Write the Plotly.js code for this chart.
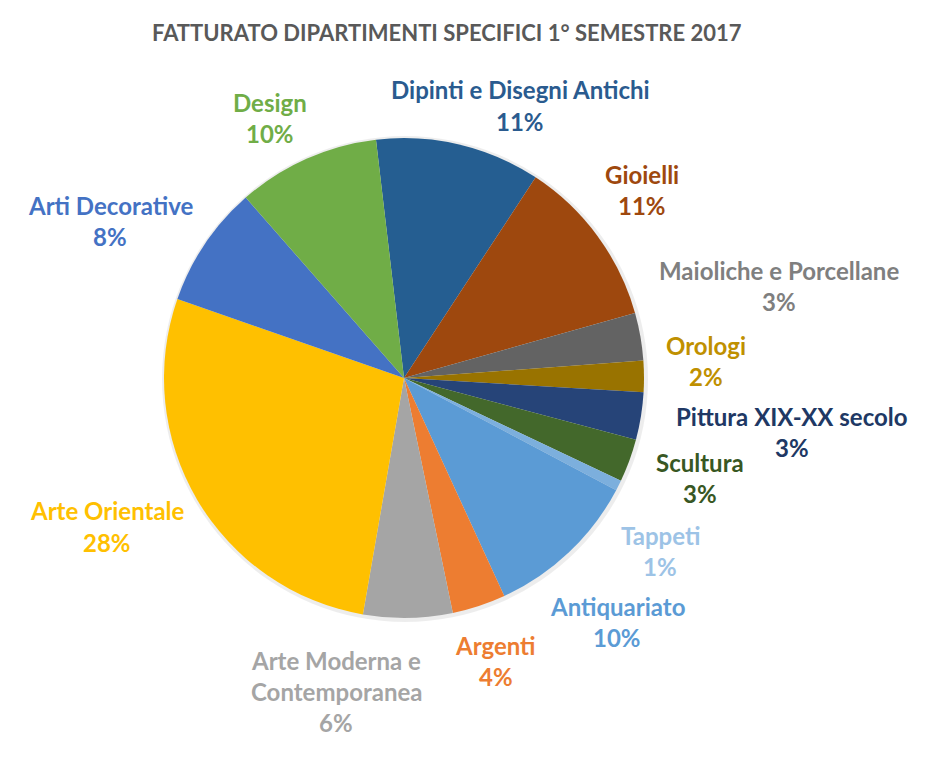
<!DOCTYPE html>
<html>
<head>
<meta charset="utf-8">
<script src="https://cdn.plot.ly/plotly-3.0.1.min.js"></script>
<style>html,body{margin:0;padding:0;background:#fff;}#chart{width:931px;height:757px;}</style>
</head>
<body>
<div id="chart"></div>
<script>
// Data
const categories = ["Dipinti e Disegni Antichi", "Gioielli", "Maioliche e Porcellane", "Orologi",
  "Pittura XIX-XX secolo", "Scultura", "Tappeti", "Antiquariato", "Argenti",
  "Arte Moderna e\nContemporanea", "Arte Orientale", "Arti Decorative", "Design"];
const values = [11.1, 11.4, 3.2, 2.1, 3.2, 2.9, 0.7, 10.4, 3.6, 6.0, 27.6, 8.2, 9.6];

// Styles
const sliceColors = ["#255E91", "#9E480E", "#636363", "#997300", "#264478", "#43682B", "#7CAFDD",
  "#5B9BD5", "#ED7D31", "#A5A5A5", "#FFC000", "#4472C4", "#70AD47"];
const labelColors = ["#2A5B8F", "#9E480E", "#7F7F7F", "#BF9000", "#203864", "#385723", "#9DC3E6",
  "#5B9BD5", "#ED7D31", "#A5A5A5", "#FFC000", "#4472C4", "#70AD47"];
// label anchor positions (pixel, first line centre)
const labelPos = [[520, 90], [642, 175], [779, 270], [706, 345], [792, 416], [700, 462], [660, 535],
  [617, 606], [496, 645], [336, 660], [107, 511], [110, 205], [270, 103]];

const W = 931, H = 757;
const cx = 404, cy = 378, R = 240;
const font = "Lato, 'Open Sans', sans-serif";
const lineGap = 31;

const total = values.reduce((a, b) => a + b, 0);
const annotations = [];
categories.forEach((c, i) => {
  const lines = c.split("\n");
  lines.push(Math.round(values[i] / total * 100) + "%");
  lines.forEach((t, k) => {
    annotations.push({
      text: "<b>" + t + "</b>", xref: "paper", yref: "paper",
      x: labelPos[i][0] / W, y: 1 - (labelPos[i][1] + k * lineGap) / H,
      xanchor: "center", yanchor: "middle", showarrow: false,
      font: {family: font, size: 24, color: labelColors[i]}
    });
  });
});
annotations.push({
  text: "<b>FATTURATO DIPARTIMENTI SPECIFICI 1° SEMESTRE 2017</b>", xref: "paper", yref: "paper",
  x: 447 / W, y: 1 - 32 / H, xanchor: "center", yanchor: "middle", showarrow: false,
  font: {family: font, size: 22, color: "#595959"}
});

const shadowR = R + 3;
const traces = [
  {
    type: "pie", values: [1], labels: ["shadow"], sort: false, textinfo: "none", hoverinfo: "skip",
    marker: {colors: ["rgba(0,0,0,0.07)"], line: {width: 0}}, showlegend: false,
    domain: {x: [(cx + 1 - shadowR) / W, (cx + 1 + shadowR) / W], y: [(H - cy - 1 - shadowR) / H, (H - cy - 1 + shadowR) / H]}
  },
  {
    type: "pie", labels: categories, values: values, sort: false, direction: "clockwise",
    rotation: -6.7, textinfo: "none", hoverinfo: "label+percent",
    marker: {colors: sliceColors, line: {width: 0}}, showlegend: false,
    domain: {x: [(cx - R) / W, (cx + R) / W], y: [(H - cy - R) / H, (H - cy + R) / H]}
  }
];

Plotly.newPlot("chart", traces, {
  width: W, height: H, margin: {l: 0, r: 0, t: 0, b: 0},
  paper_bgcolor: "#fff", showlegend: false, annotations: annotations,
  font: {family: font}
}, {staticPlot: true});
</script>
</body>
</html>
